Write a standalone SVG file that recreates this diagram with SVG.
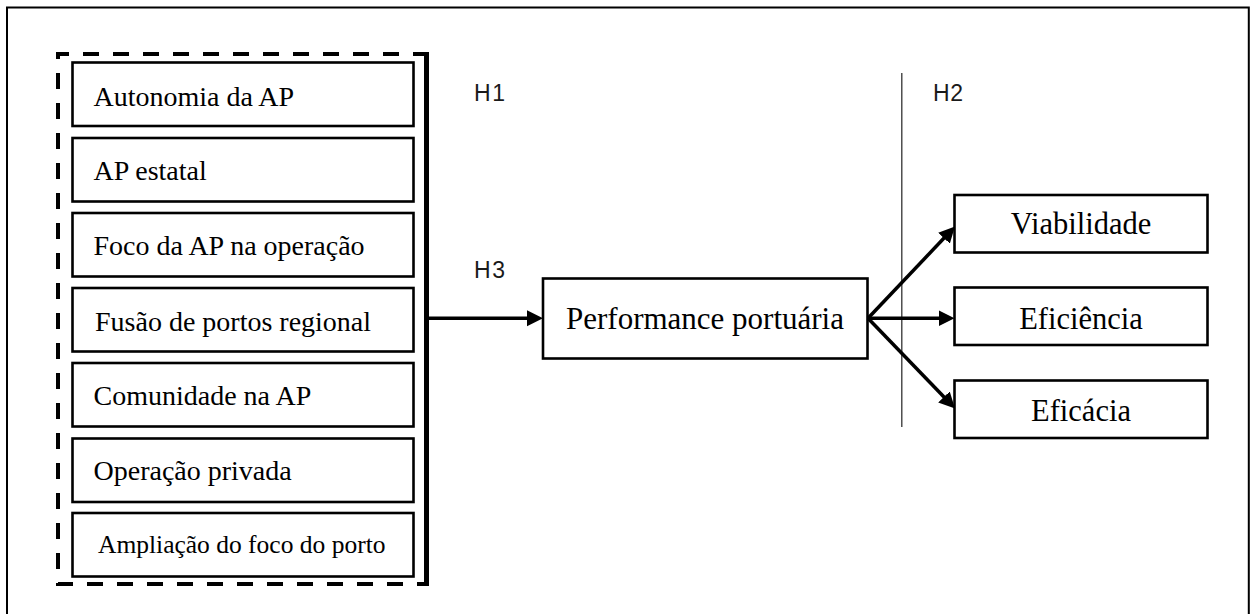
<svg xmlns="http://www.w3.org/2000/svg" width="1250" height="614" viewBox="0 0 1250 614">
  <defs>
    <style>
      .box { fill: #ffffff; stroke: #000000; stroke-width: 2.6; }
      .lbl { font-family: "Liberation Serif", "Times New Roman", serif; font-size: 28px; fill: #000000; }
      .lbl-out { font-family: "Liberation Serif", "Times New Roman", serif; font-size: 30.5px; fill: #000000; text-anchor: middle; }
      .hyp { font-family: "Liberation Sans", Arial, sans-serif; font-size: 23px; fill: #1a1a1a; }
      .arrow { fill: none; stroke: #000000; stroke-width: 3.5; marker-end: url(#head); }
    </style>
    <marker id="head" markerUnits="userSpaceOnUse" markerWidth="17" markerHeight="17" refX="6" refY="8" orient="auto">
      <path d="M0,0 L16,8 L0,16 Z" fill="#000000"/>
    </marker>
  </defs>

  <rect width="1250" height="614" fill="#ffffff"/>

  <!-- outer frame, open at the bottom -->
  <path d="M7,620 V7.5 H1248.8 V620" fill="none" stroke="#000000" stroke-width="2"/>

  <!-- dashed grouping of the governance factors -->
  <g id="factor-group">
    <path d="M429,54 H58 V584 H429" fill="none" stroke="#000000" stroke-width="4" stroke-dasharray="16 14"/>
    <line x1="426.5" y1="52" x2="426.5" y2="586" stroke="#000000" stroke-width="5"/>
  </g>

  <g id="autonomia">
    <rect class="box" x="72.5" y="62.5" width="341" height="63.5"/>
    <text class="lbl" x="93.5" y="105.5">Autonomia da AP</text>
  </g>
  <g id="ap-estatal">
    <rect class="box" x="72.5" y="138" width="341" height="63.5"/>
    <text class="lbl" x="93.5" y="179.5">AP estatal</text>
  </g>
  <g id="foco-operacao">
    <rect class="box" x="72.5" y="213" width="341" height="63.5"/>
    <text class="lbl" x="93.5" y="255">Foco da AP na operação</text>
  </g>
  <g id="fusao-portos">
    <rect class="box" x="72.5" y="288" width="341" height="63.5"/>
    <text class="lbl" x="95" y="331">Fusão de portos regional</text>
  </g>
  <g id="comunidade">
    <rect class="box" x="72.5" y="363" width="341" height="63.5"/>
    <text class="lbl" x="93.5" y="405">Comunidade na AP</text>
  </g>
  <g id="operacao-privada">
    <rect class="box" x="72.5" y="438.5" width="341" height="63.5"/>
    <text class="lbl" x="93.5" y="480">Operação privada</text>
  </g>
  <g id="ampliacao-foco">
    <rect class="box" x="72.5" y="513" width="341" height="63.5"/>
    <text class="lbl" x="98" y="552.5" style="font-size:25.5px">Ampliação do foco do porto</text>
  </g>

  <g id="performance">
    <rect class="box" x="543" y="278.5" width="324.5" height="80"/>
    <text class="lbl-out" x="705" y="328.5" style="font-size:31px">Performance portuária</text>
  </g>

  <g id="viabilidade">
    <rect class="box" x="954.5" y="195" width="253" height="57.5"/>
    <text class="lbl-out" x="1081" y="233.5">Viabilidade</text>
  </g>
  <g id="eficiencia">
    <rect class="box" x="954.5" y="287.5" width="253" height="57.5"/>
    <text class="lbl-out" x="1081" y="328.5">Eficiência</text>
  </g>
  <g id="eficacia">
    <rect class="box" x="954.5" y="380.5" width="253" height="57.5"/>
    <text class="lbl-out" x="1081" y="421">Eficácia</text>
  </g>

  <!-- hypothesis labels and divider -->
  <g id="hypotheses">
    <text class="hyp" x="474" y="101" textLength="31">H1</text>
    <text class="hyp" x="933" y="100.7" textLength="30">H2</text>
    <text class="hyp" x="474" y="278" textLength="31">H3</text>
    <line x1="901.8" y1="73" x2="901.8" y2="427" stroke="#333333" stroke-width="1.3"/>
  </g>

  <g id="connectors">
    <line class="arrow" x1="428" y1="318.3" x2="533" y2="318.3"/>
    <line class="arrow" x1="868" y1="318.3" x2="948.1" y2="233.8"/>
    <line class="arrow" x1="868" y1="318.3" x2="944.5" y2="318.3"/>
    <line class="arrow" x1="868" y1="318.3" x2="948.1" y2="401.3"/>
  </g>
</svg>
